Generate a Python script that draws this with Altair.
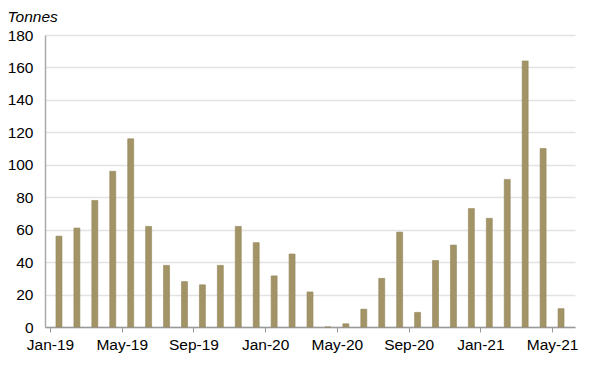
import altair as alt
import pandas as pd

months = ["Jan-19","Feb-19","Mar-19","Apr-19","May-19","Jun-19","Jul-19","Aug-19","Sep-19","Oct-19","Nov-19","Dec-19",
          "Jan-20","Feb-20","Mar-20","Apr-20","May-20","Jun-20","Jul-20","Aug-20","Sep-20","Oct-20","Nov-20","Dec-20",
          "Jan-21","Feb-21","Mar-21","Apr-21","May-21"]
tonnes = [56, 61, 78, 96, 116, 62, 38, 28, 26, 38, 62, 52,
          31.5, 45, 21.6, 0, 2, 11, 30, 58.5, 9, 41, 50.5, 73,
          67, 91, 164, 110, 11.3]
tick_labels = ["Jan-19", "May-19", "Sep-19", "Jan-20", "May-20", "Sep-20", "Jan-21", "May-21"]

df = pd.DataFrame({"month": months, "idx": list(range(len(months))), "tonnes": tonnes})

label_expr = "[" + ",".join("'" + t + "'" for t in tick_labels) + "][datum.value / 4]"
FS = 15.5

chart = alt.Chart(df).transform_calculate(
    pos="datum.idx + 0.5"
).mark_bar(size=6, color="#A39468", stroke="#94865B", strokeWidth=0.6).encode(
    x=alt.X("pos:Q", scale=alt.Scale(domain=[0, 29], nice=False, zero=False),
            axis=alt.Axis(values=[0, 4, 8, 12, 16, 20, 24, 28], labelExpr=label_expr,
                          grid=False, title=None, tickSize=5, tickColor="#999999",
                          domainColor="#999999", domainWidth=1.5, labelFontSize=FS,
                          labelFont="Liberation Sans", labelColor="#000000", labelPadding=5)),
    y=alt.Y("tonnes:Q", scale=alt.Scale(domain=[0, 180], nice=False),
            axis=alt.Axis(values=list(range(0, 181, 20)), grid=True, gridColor="#E3E3E3", gridWidth=1.5,
                          ticks=False, domainColor="#AAAAAA", domainWidth=1.5,
                          labelFontSize=FS, labelFont="Liberation Sans", labelColor="#000000",
                          labelPadding=12,
                          title="Tonnes", titleAngle=0, titleAlign="left", titleBaseline="alphabetic",
                          titleX=-38, titleY=-14, titleFont="Liberation Sans", titleFontSize=FS,
                          titleFontStyle="italic", titleFontWeight="normal", titleColor="#000000")),
).properties(
    width=530, height=292,
    autosize=alt.AutoSizeParams(type="none"),
    padding={"left": 37, "top": 27, "right": 17, "bottom": 34},
).configure_view(stroke=None)

chart.save("out.html", embed_options={"renderer": "svg", "actions": False})
